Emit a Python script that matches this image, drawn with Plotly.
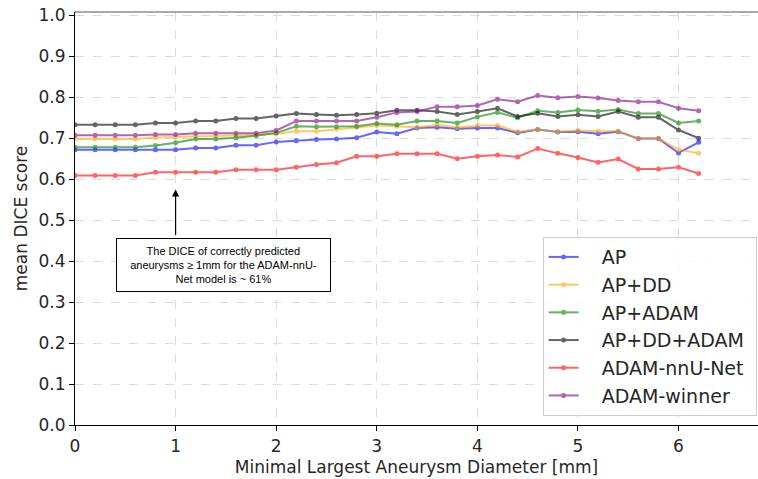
import plotly.graph_objects as go

x_mm = [round(0.2 * i, 1) for i in range(32)]

ap = [0.672, 0.672, 0.672, 0.672, 0.672, 0.672, 0.676, 0.676, 0.683, 0.683, 0.691, 0.694,
      0.697, 0.698, 0.701, 0.715, 0.711, 0.725, 0.727, 0.723, 0.725, 0.725, 0.713, 0.721,
      0.715, 0.716, 0.711, 0.716, 0.699, 0.699, 0.664, 0.690]
ap_dd = [0.698, 0.698, 0.698, 0.698, 0.702, 0.703, 0.705, 0.705, 0.707, 0.708, 0.711, 0.717,
         0.717, 0.722, 0.726, 0.731, 0.729, 0.726, 0.732, 0.726, 0.731, 0.731, 0.716, 0.721,
         0.716, 0.719, 0.717, 0.717, 0.699, 0.699, 0.672, 0.663]
ap_adam = [0.678, 0.678, 0.678, 0.678, 0.682, 0.689, 0.698, 0.698, 0.701, 0.706, 0.713, 0.729,
           0.728, 0.728, 0.729, 0.736, 0.733, 0.742, 0.742, 0.737, 0.752, 0.763, 0.750, 0.767,
           0.763, 0.769, 0.766, 0.770, 0.760, 0.760, 0.737, 0.742]
ap_dd_adam = [0.733, 0.733, 0.733, 0.733, 0.737, 0.737, 0.742, 0.742, 0.748, 0.748, 0.754, 0.760,
              0.758, 0.756, 0.758, 0.761, 0.768, 0.768, 0.765, 0.758, 0.765, 0.773, 0.753, 0.761,
              0.753, 0.757, 0.753, 0.765, 0.751, 0.751, 0.720, 0.700]
adam_nnunet = [0.609, 0.609, 0.609, 0.609, 0.617, 0.617, 0.617, 0.617, 0.623, 0.623, 0.623, 0.629,
               0.636, 0.640, 0.656, 0.656, 0.662, 0.662, 0.662, 0.650, 0.656, 0.659, 0.654, 0.675,
               0.663, 0.653, 0.641, 0.649, 0.625, 0.625, 0.629, 0.614]
adam_winner = [0.707, 0.707, 0.707, 0.707, 0.709, 0.709, 0.712, 0.712, 0.712, 0.712, 0.719, 0.742,
               0.742, 0.742, 0.742, 0.751, 0.763, 0.765, 0.777, 0.777, 0.780, 0.795, 0.789, 0.804,
               0.799, 0.802, 0.798, 0.792, 0.789, 0.789, 0.773, 0.767]

names = ["AP", "AP+DD", "AP+ADAM", "AP+DD+ADAM", "ADAM-nnU-Net", "ADAM-winner"]
series = [ap, ap_dd, ap_adam, ap_dd_adam, adam_nnunet, adam_winner]
colors = ["#0000FF", "#FFA500", "#008000", "#000000", "#FF0000", "#800080"]

y_ticks = [0.0, 0.1, 0.2, 0.3, 0.4, 0.5, 0.6, 0.7, 0.8, 0.9, 1.0]
x_ticks = [0, 1, 2, 3, 4, 5, 6]

fig = go.Figure()
for name, vals, col in zip(names, series, colors):
    fig.add_trace(go.Scatter(
        x=x_mm, y=vals, name="\u00a0\u00a0\u00a0" + name + "\u00a0", mode="lines+markers",
        line=dict(color=col, width=2), marker=dict(color=col, size=5),
        opacity=0.6, legendgroup=name,
    ))

fig.update_layout(
    width=758, height=479, autosize=False,
    margin=dict(l=75, r=0, t=12, b=54),
    paper_bgcolor="white", plot_bgcolor="white",
    font=dict(family="DejaVu Sans", size=17, color="#262626"),
    showlegend=True,
    legend=dict(
        x=0.998, y=0.455, xanchor="right", yanchor="top",
        bgcolor="rgba(255,255,255,0.9)", bordercolor="#cccccc", borderwidth=1,
        font=dict(family="DejaVu Sans", size=19, color="#262626"),
        traceorder="grouped", tracegroupgap=0,
    ),
    xaxis=dict(
        range=[0, 6.79], tickmode="array", tickvals=x_ticks,
        ticktext=[str(t) for t in x_ticks],
        showgrid=True, gridcolor="#dcdcdc", griddash="dash", gridwidth=1,
        zeroline=False, showline=True, linecolor="#000000", linewidth=1.2,
        ticks="outside", ticklen=5, tickcolor="#000000",
        title=dict(text="Minimal Largest Aneurysm Diameter [mm]", standoff=6,
                   font=dict(size=17)),
    ),
    yaxis=dict(
        range=[0, 1.008], tickmode="array", tickvals=y_ticks,
        ticktext=[f"{t:.1f}" for t in y_ticks],
        showgrid=True, gridcolor="#dcdcdc", griddash="dash", gridwidth=1,
        zeroline=False, showline=True, linecolor="#000000", linewidth=1.2,
        ticks="outside", ticklen=5, tickcolor="#000000",
        title=dict(text="mean DICE score", standoff=6, font=dict(size=17)),
    ),
)

# top spine
fig.add_shape(type="line", xref="paper", yref="paper", x0=0, x1=1, y0=1, y1=1,
              line=dict(color="#8c8c8c", width=1.5))

# arrow
fig.add_annotation(x=1.0, y=0.575, ax=1.0, ay=0.46, xref="x", yref="y",
                   axref="x", ayref="y", text="", showarrow=True,
                   arrowhead=2, arrowsize=1.2, arrowwidth=1.2, arrowcolor="#000000")

# text box
fig.add_annotation(
    x=1.48, y=0.391, xref="x", yref="y", showarrow=False,
    text="The DICE of correctly predicted<br>aneurysms ≥ 1mm for the ADAM-nnU-<br>Net model is ~ 61%",
    font=dict(family="Liberation Sans", size=11, color="#000000"),
    bgcolor="white", bordercolor="#000000", borderwidth=1,
    width=211, height=50, align="center",
)

fig.write_html(
    "out.html",
    config={"responsive": False, "displayModeBar": False},
    post_script="document.body.style.margin='0';document.body.style.overflow='hidden';",
)
